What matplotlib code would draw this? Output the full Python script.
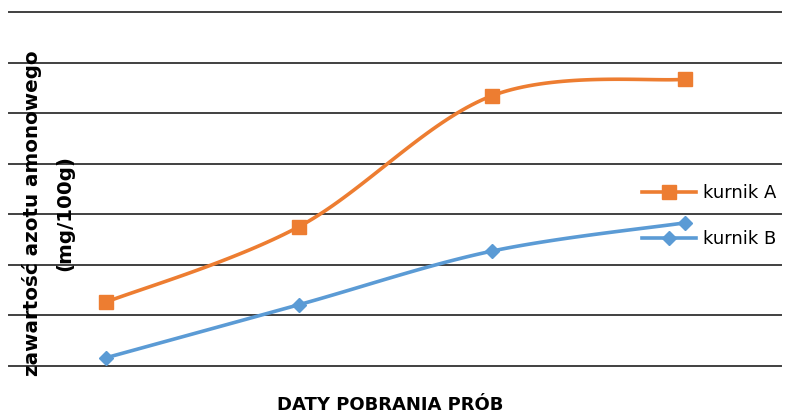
import numpy as np
import matplotlib.pyplot as plt

# sample dates are not shown on the chart, only four sampling points
points = [0, 1, 2, 3]
kurnik_a = [1.26, 2.75, 5.34, 5.67]
kurnik_b = [0.16, 1.21, 2.27, 2.83]


def smooth(xs, ys, n=40):
    # Catmull-Rom style smoothing like Excel's "smoothed line"
    xs = np.asarray(xs, float)
    ys = np.asarray(ys, float)
    px = np.concatenate([[xs[0]], xs, [xs[-1]]])
    py = np.concatenate([[ys[0]], ys, [ys[-1]]])
    out_x, out_y = [], []
    for i in range(1, len(px) - 2):
        p0, p1, p2, p3 = [np.array([px[j], py[j]]) for j in (i - 1, i, i + 1, i + 2)]
        c1 = p1 + (p2 - p0) / 6
        c2 = p2 - (p3 - p1) / 6
        t = np.linspace(0, 1, n)[:, None]
        b = ((1 - t) ** 3) * p1 + 3 * ((1 - t) ** 2) * t * c1 + 3 * (1 - t) * t ** 2 * c2 + t ** 3 * p2
        out_x.extend(b[:, 0])
        out_y.extend(b[:, 1])
    return out_x, out_y


fig = plt.figure(figsize=(7.85, 4.16), dpi=100)
ax = fig.add_axes([9 / 785, 1 - 366 / 416, 772 / 785, 354 / 416])

orange = '#ED7D31'
blue = '#5B9BD5'

sx, sy = smooth(points, kurnik_a)
ax.plot(sx, sy, color=orange, lw=2.6, zorder=3)
ax.plot(points, kurnik_a, ls='none', marker='s', ms=9.5, color=orange, zorder=4)

sx, sy = smooth(points, kurnik_b)
ax.plot(sx, sy, color=blue, lw=2.6, zorder=3)
ax.plot(points, kurnik_b, ls='none', marker='D', ms=7.5, color=blue, zorder=4)

ax.set_xlim(-0.5, 3.5)
ax.set_ylim(0, 7)
ax.set_xticks([])
ax.tick_params(left=False, labelleft=False)
for v in range(8):
    ax.axhline(v, color='#404040', lw=1.4, clip_on=False, zorder=1)
for s in ax.spines.values():
    s.set_visible(False)

# legend
la, = ax.plot([], [], color=orange, lw=2.6, marker='s', ms=9.5)
lb, = ax.plot([], [], color=blue, lw=2.6, marker='D', ms=7.5)
fig.legend([la, lb], ['kurnik A', 'kurnik B'], loc='center left',
           bbox_to_anchor=(626 / 785, 1 - 216 / 416), frameon=False,
           fontsize=13, handlelength=3.0, labelspacing=1.55, handletextpad=0.35)

fig.text(32 / 785, 1 - 213 / 416, 'zawartość azotu amonowego', rotation=90,
         ha='center', va='center', fontsize=14.3, fontweight='bold')
fig.text(65 / 785, 1 - 213 / 416, '(mg/100g)', rotation=90,
         ha='center', va='center', fontsize=14.3, fontweight='bold')
fig.text(390 / 785, 1 - 405 / 416, 'DATY POBRANIA PRÓB', ha='center', va='center',
         fontsize=13, fontweight='bold')

fig.savefig('out.png', dpi=100)
